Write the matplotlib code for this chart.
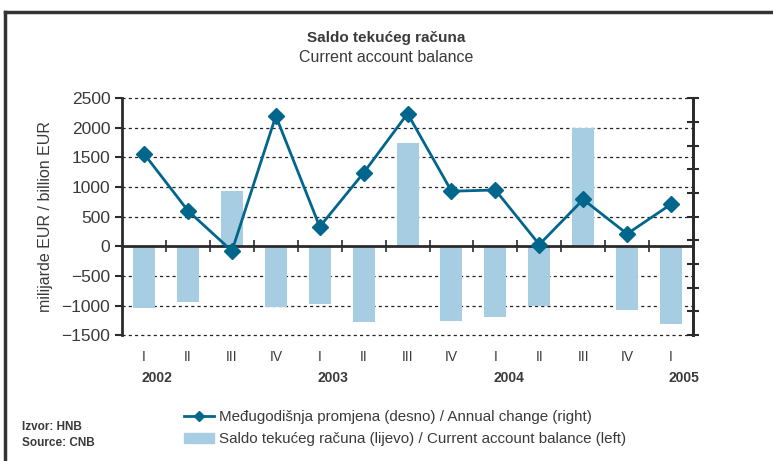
#!/usr/bin/env python3
"""Saldo tekuceg racuna / Current account balance - quarterly bars and line."""
import numpy as np
import matplotlib
matplotlib.use("Agg")
import matplotlib.pyplot as plt
from matplotlib.lines import Line2D
from matplotlib.patches import Patch

# ---------------------------- data ----------------------------------
quarters = ["I", "II", "III", "IV", "I", "II", "III", "IV",
            "I", "II", "III", "IV", "I"]
years = ["2002", "2003", "2004", "2005"]
year_index = [0, 4, 8, 12]

# current account balance (left axis)
balance = [-1050, -940, 930, -1030, -970, -1280, 1740, -1260,
           -1190, -1010, 2000, -1070, -1310]
# annual change (right axis)
annual_change = [1560, 600, -80, 2200, 330, 1240, 2240, 930,
                 950, 30, 790, 210, 710]

BAR_COLOR = "#a6cde1"
LINE_COLOR = "#00668c"
TEXT_COLOR = "#3a3a3a"
AXIS_COLOR = "#2b2b2b"

plt.rcParams["font.family"] = ["Liberation Sans", "DejaVu Sans"]

fig = plt.figure(figsize=(7.73, 4.61), dpi=100)
ax = fig.add_axes([0.158, 0.273, 0.7385, 0.514])

x = np.arange(len(balance))
ax.bar(x, balance, width=0.5, color=BAR_COLOR, zorder=2)
ax.set_xlim(-0.5, len(balance) - 0.5)
ax.set_ylim(-1500, 2500)
ax.set_yticks(np.arange(-1500, 2501, 500))
ax.tick_params(axis="y", direction="out", length=5, width=1.5,
               color=AXIS_COLOR, labelsize=12.5, labelcolor=TEXT_COLOR)

# dotted gridlines, except at zero (drawn as the axis)
for v in np.arange(-1500, 2501, 500):
    if v != 0:
        ax.axhline(v, color="#222222", lw=0.9, ls=(0, (2.5, 2.5)),
                   zorder=1, clip_on=False)

ax.spines["top"].set_visible(False)
ax.spines["left"].set_linewidth(2)
ax.spines["left"].set_color(AXIS_COLOR)
ax.spines["right"].set_linewidth(2)
ax.spines["right"].set_color(AXIS_COLOR)
ax.spines["bottom"].set_position(("data", 0))
ax.spines["bottom"].set_linewidth(2)
ax.spines["bottom"].set_color(AXIS_COLOR)
ax.spines["bottom"].set_zorder(3)
ax.set_xticks(np.arange(0.5, len(balance) - 1, 1.0))
ax.tick_params(axis="x", direction="inout", length=8, width=1.2,
               color=AXIS_COLOR, labelbottom=False)

ax.set_ylabel("milijarde EUR / billion EUR", fontsize=11.5,
              color=TEXT_COLOR, labelpad=6)

# right axis for the annual change line (ticks only, no labels)
ax2 = ax.twinx()
ax2.set_ylim(-1500, 2500)
ax2.set_yticks(np.linspace(-1500, 2500, 11))
ax2.tick_params(axis="y", direction="inout", length=8, width=1.5,
                color=AXIS_COLOR, labelright=False)
for side in ["top", "left", "bottom"]:
    ax2.spines[side].set_visible(False)
ax2.spines["right"].set_linewidth(2)
ax2.spines["right"].set_color(AXIS_COLOR)
ax2.plot(x, annual_change, color=LINE_COLOR, lw=2, marker="D",
         markersize=8, zorder=4)

# quarter and year labels below the plot
trans = ax.get_xaxis_transform()
for i, q in enumerate(quarters):
    ax.text(x[i], -0.093, q, transform=trans, ha="center",
            va="center", fontsize=10, color=TEXT_COLOR)
for yi, yr in zip(year_index, years):
    ax.text(x[yi] - 0.05, -0.181, yr, transform=trans,
            ha="left", va="center", fontsize=10, fontweight="bold",
            color=TEXT_COLOR)

# titles
fig.text(0.5, 0.918, "Saldo tekućeg računa", ha="center", va="center",
         fontsize=11, fontweight="bold", color=TEXT_COLOR)
fig.text(0.5, 0.876, "Current account balance", ha="center", va="center",
         fontsize=11.5, color=TEXT_COLOR)

# legend
handles = [Line2D([], [], color=LINE_COLOR, lw=2, marker="D", markersize=5),
           Patch(color=BAR_COLOR)]
labels = ["Međugodišnja promjena (desno) / Annual change (right)",
          "Saldo tekućeg računa (lijevo) / Current account balance (left)"]
leg = fig.legend(handles, labels, loc="upper left",
                 bbox_to_anchor=(0.22, 0.14), frameon=False, fontsize=10.9,
                 handlelength=2.0, handleheight=0.7, labelspacing=0.55,
                 handletextpad=0.3)
for t in leg.get_texts():
    t.set_color(TEXT_COLOR)

fig.text(0.028, 0.074, "Izvor: HNB", fontsize=8.5, fontweight="bold",
         color=TEXT_COLOR, va="center")
fig.text(0.028, 0.04, "Source: CNB", fontsize=8.5, fontweight="bold",
         color=TEXT_COLOR, va="center")

# frame lines (top and left)
fig.add_artist(Line2D([0.007, 0.007], [0.0, 0.974], transform=fig.transFigure,
                      color="#333333", lw=2.5))
fig.add_artist(Line2D([0.007, 1.0], [0.974, 0.974], transform=fig.transFigure,
                      color="#333333", lw=2.5))

fig.savefig("out.png", dpi=100)
